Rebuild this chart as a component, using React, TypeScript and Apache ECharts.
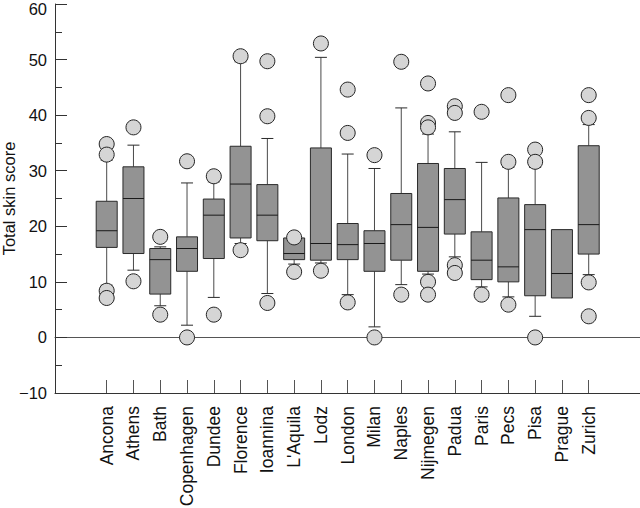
import React, { useEffect, useRef } from 'react';
import * as echarts from 'echarts';

const categories = ['Ancona', 'Athens', 'Bath', 'Copenhagen', 'Dundee', 'Florence', 'Ioannina', "L'Aquila", 'Lodz', 'London', 'Milan', 'Naples', 'Nijmegen', 'Padua', 'Paris', 'Pecs', 'Pisa', 'Prague', 'Zurich'];
const whiskerLow = [9.4, 12.1, 5.7, 2.2, 7.2, 16.9, 7.9, 13.2, 13.4, 7.7, 1.9, 9.5, 11.4, 14.5, 9.1, 7.3, 3.8, 7.1, 11.3];
const q1 = [16.2, 15.1, 7.8, 11.9, 14.2, 17.9, 17.4, 14.0, 13.9, 14.0, 11.9, 13.9, 11.9, 18.6, 10.4, 10.0, 7.5, 7.1, 15.0];
const median = [19.2, 25.0, 14.0, 16.0, 22.0, 27.6, 22.0, 15.1, 16.9, 16.7, 16.9, 20.3, 19.8, 24.8, 13.9, 12.7, 19.4, 11.5, 20.3];
const q3 = [24.5, 30.7, 16.0, 18.1, 24.9, 34.4, 27.5, 17.9, 34.1, 20.5, 19.2, 25.9, 31.3, 30.4, 19.0, 25.1, 23.9, 19.4, 34.5];
const whiskerHigh = [31.9, 34.6, 16.3, 27.8, 28.0, 49.6, 35.8, 17.9, 50.4, 33.0, 30.4, 41.3, 36.6, 37.0, 31.5, 30.6, 30.6, 19.4, 38.3];
const outliers: number[][] = [
  [34.8, 32.9, 8.4, 7.1],
  [37.8, 10.1],
  [18.1, 4.1],
  [31.7, 0],
  [29.0, 4.1],
  [50.6, 15.7],
  [49.7, 39.8, 6.2],
  [18.0, 11.8],
  [52.9, 12.0],
  [44.6, 36.8, 6.3],
  [32.8, 0],
  [49.6, 7.7],
  [45.7, 38.6, 37.8, 10.0, 7.7],
  [41.6, 40.4, 13.0, 11.6],
  [40.6, 7.7],
  [43.6, 31.6, 5.9],
  [33.8, 31.6, 0],
  [],
  [43.6, 39.5, 9.9, 3.8],
];
const yMin = -10;
const yMax = 60;
const yInterval = 10;

const FONT = '"Liberation Sans", Arial, Helvetica, sans-serif';
const AXIS_COLOR = '#333';
const BOX_FILL = '#939393';
const BOX_STROKE = '#2a2a2a';
const WHISKER = '#4a4a4a';
const OUTLIER_FILL = '#d5d5d5';

export default function App() {
  const ref = useRef<HTMLDivElement>(null);
  useEffect(() => {
    const chart = echarts.init(ref.current!, null, { renderer: 'svg' });
    const boxData = categories.map((_, i) => [i, whiskerLow[i], q1[i], median[i], q3[i], whiskerHigh[i]]);
    const outlierData: number[][] = [];
    outliers.forEach((vals, i) => vals.forEach((v) => outlierData.push([i, v])));

    const renderItem = (params: any, api: any) => {
      const idx = api.value(0);
      const pLow = api.coord([idx, api.value(1)]);
      const pQ1 = api.coord([idx, api.value(2)]);
      const pMed = api.coord([idx, api.value(3)]);
      const pQ3 = api.coord([idx, api.value(4)]);
      const pHigh = api.coord([idx, api.value(5)]);
      const cx = pQ1[0];
      const boxW = 21;
      const capW = 12;
      const children: any[] = [];
      const lineStyle = { stroke: WHISKER, lineWidth: 1 };
      if (pLow[1] - pQ1[1] > 0.5) {
        children.push({ type: 'line', shape: { x1: cx, y1: pQ1[1], x2: cx, y2: pLow[1] }, style: lineStyle });
        children.push({ type: 'line', shape: { x1: cx - capW / 2, y1: pLow[1], x2: cx + capW / 2, y2: pLow[1] }, style: { stroke: BOX_STROKE, lineWidth: 1 } });
      }
      if (pQ3[1] - pHigh[1] > 0.5) {
        children.push({ type: 'line', shape: { x1: cx, y1: pQ3[1], x2: cx, y2: pHigh[1] }, style: lineStyle });
        children.push({ type: 'line', shape: { x1: cx - capW / 2, y1: pHigh[1], x2: cx + capW / 2, y2: pHigh[1] }, style: { stroke: BOX_STROKE, lineWidth: 1 } });
      }
      children.push({
        type: 'rect',
        shape: { x: cx - boxW / 2, y: pQ3[1], width: boxW, height: pQ1[1] - pQ3[1] },
        style: { fill: BOX_FILL, stroke: BOX_STROKE, lineWidth: 1 },
      });
      children.push({ type: 'line', shape: { x1: cx - boxW / 2, y1: pMed[1], x2: cx + boxW / 2, y2: pMed[1] }, style: { stroke: '#1a1a1a', lineWidth: 1 } });
      return { type: 'group', children };
    };

    chart.setOption({
      animation: false,
      backgroundColor: '#ffffff',
      textStyle: { fontFamily: FONT },
      grid: [
        { left: 55, right: 0, top: 4, bottom: 115, outerBoundsMode: 'none', containLabel: false },
        { left: 93.3, right: 37.9, top: 4, bottom: 115, outerBoundsMode: 'none', containLabel: false },
      ],
      xAxis: [
        {
          type: 'value', gridIndex: 0, min: 0, max: 1, position: 'bottom',
          axisLine: { show: true, onZero: false, lineStyle: { color: AXIS_COLOR, width: 1 } },
          axisTick: { show: false }, axisLabel: { show: false }, splitLine: { show: false },
        },
        {
          type: 'value', gridIndex: 0, min: 0, max: 1, position: 'top',
          axisLine: { show: true, onZero: true, lineStyle: { color: '#555', width: 1 } },
          axisTick: { show: false }, axisLabel: { show: false }, splitLine: { show: false },
        },
        {
          type: 'category', gridIndex: 1, data: categories, position: 'bottom',
          axisLine: { show: false, onZero: false },
          axisTick: { show: true, inside: true, length: 13, alignWithLabel: true, lineStyle: { color: '#555', width: 1 } },
          axisLabel: { rotate: 90, margin: 13, fontSize: 17.5, color: '#111', fontFamily: FONT, interval: 0 },
          splitLine: { show: false },
        },
      ],
      yAxis: [
        {
          type: 'value', gridIndex: 0, min: yMin, max: yMax, interval: yInterval,
          name: 'Total skin score', nameLocation: 'middle', nameGap: 38, nameMoveOverlap: false,
          nameTextStyle: { fontSize: 16.5, color: '#111', fontFamily: FONT },
          axisLine: { show: true, onZero: false, lineStyle: { color: AXIS_COLOR, width: 1 } },
          axisTick: { show: true, inside: true, length: 12, lineStyle: { color: AXIS_COLOR } },
          minorTick: { show: true, splitNumber: 2, length: 7, lineStyle: { color: AXIS_COLOR } },
          axisLabel: {
            margin: 8, fontSize: 16.5, color: '#111', fontFamily: FONT,
            formatter: (v: number) => (v === yMax ? '{top|' + v + '}' : String(v).replace('-', '\u2212')),
            rich: { top: { fontSize: 16.5, color: '#111', fontFamily: FONT, padding: [10, 0, 0, 0] } },
          },
          splitLine: { show: false },
        },
        { type: 'value', gridIndex: 1, min: yMin, max: yMax, interval: yInterval, show: false },
      ],
      series: [
        {
          type: 'custom', xAxisIndex: 2, yAxisIndex: 1, data: boxData, renderItem,
          encode: { x: 0, y: [1, 2, 3, 4, 5] }, z: 2, silent: true,
        },
        {
          type: 'scatter', xAxisIndex: 2, yAxisIndex: 1, data: outlierData, symbol: 'circle', symbolSize: 15,
          itemStyle: { color: OUTLIER_FILL, borderColor: '#222', borderWidth: 1, opacity: 1 }, z: 3, silent: true,
        },
      ],
    });
    return () => chart.dispose();
  }, []);
  return <div ref={ref} style={{ position: 'fixed', left: 0, top: 0, width: 640, height: 508 }} />;
}
